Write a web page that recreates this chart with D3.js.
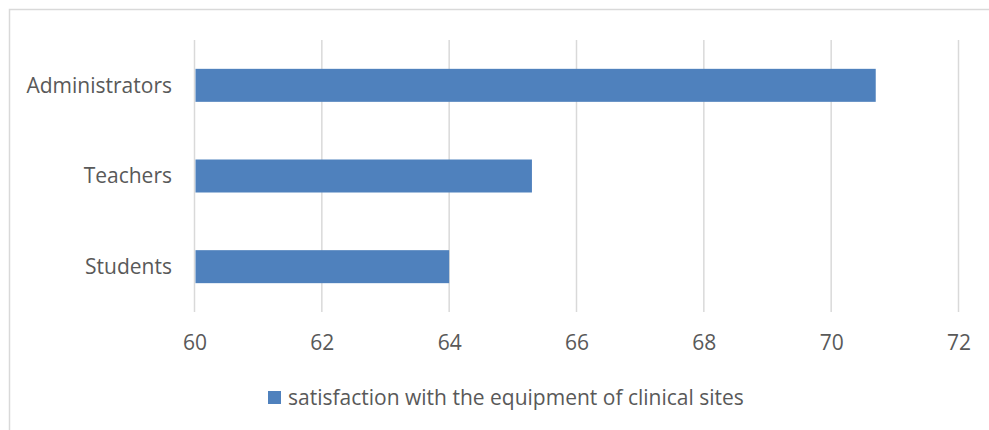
<!DOCTYPE html>
<html>
<head>
<meta charset="utf-8">
<script src="https://cdn.jsdelivr.net/npm/d3@7"></script>
<style>
  html, body { margin: 0; padding: 0; background: #fff; }
  svg { display: block; }
  text { font-family: "Open Sans", "Noto Sans", sans-serif; fill: #595959; }
</style>
</head>
<body>
<script>
// Satisfaction with clinical-site equipment by respondent group
const categories = ["Administrators", "Teachers", "Students"];
const values = [70.7, 65.3, 64.0];
const xTicks = [60, 62, 64, 66, 68, 70, 72];
const seriesName = "satisfaction with the equipment of clinical sites";

const W = 989, H = 430;
const barColor = "#4f81bd";
const gridColor = "#d9d9d9";
const fontSize = "21px";

const svg = d3.select("body").append("svg")
  .attr("width", W).attr("height", H);

svg.append("rect").attr("width", W).attr("height", H).attr("fill", "#fff");

// chart frame (extends past the right and bottom edges)
svg.append("rect")
  .attr("x", 9.5).attr("y", 9.5)
  .attr("width", W + 10).attr("height", H + 10)
  .attr("fill", "none").attr("stroke", gridColor).attr("stroke-width", 1.5);

const plot = { left: 194.5, right: 958.5, top: 40, bottom: 312 };

const x = d3.scaleLinear().domain([60, 72]).range([plot.left, plot.right]);
const y = d3.scaleBand().domain(categories)
  .range([plot.top, plot.bottom])
  .paddingInner(0.636).paddingOuter(0.318);

// vertical gridlines
svg.append("g").selectAll("line").data(xTicks).join("line")
  .attr("x1", d => x(d)).attr("x2", d => x(d))
  .attr("y1", plot.top).attr("y2", plot.bottom)
  .attr("stroke", gridColor).attr("stroke-width", 1.5);

// bars
svg.append("g").selectAll("rect").data(categories).join("rect")
  .attr("x", x(60) + 1)
  .attr("y", d => y(d))
  .attr("width", (d, i) => x(values[i]) - x(60) - 1)
  .attr("height", y.bandwidth())
  .attr("fill", barColor);

// x tick labels
const xAxis = d3.axisBottom(x).tickValues(xTicks).tickSize(0).tickPadding(0)
  .tickFormat(d3.format("d"));
const gx = svg.append("g").attr("transform", `translate(0,${plot.bottom})`).call(xAxis);
gx.select(".domain").remove();
gx.selectAll("text")
  .attr("y", 31).attr("dy", "0.35em")
  .style("font-size", fontSize).style("font-family", null).attr("fill", "#595959");

// category labels
const yAxis = d3.axisLeft(y).tickSize(0).tickPadding(0);
const gy = svg.append("g").attr("transform", `translate(172,0)`).call(yAxis);
gy.select(".domain").remove();
gy.selectAll("text")
  .attr("x", 0).attr("dy", "0.35em")
  .style("font-size", fontSize).attr("fill", "#595959");
gx.attr("font-family", null).attr("font-size", null);
gy.attr("font-family", null).attr("font-size", null);

// legend
const legend = svg.append("g").attr("transform", "translate(268,391)");
legend.append("rect").attr("width", 13).attr("height", 13).attr("fill", barColor);
legend.append("text")
  .attr("x", 20).attr("y", 6.5).attr("dy", "0.35em")
  .style("font-size", fontSize)
  .text(seriesName);
</script>
</body>
</html>
